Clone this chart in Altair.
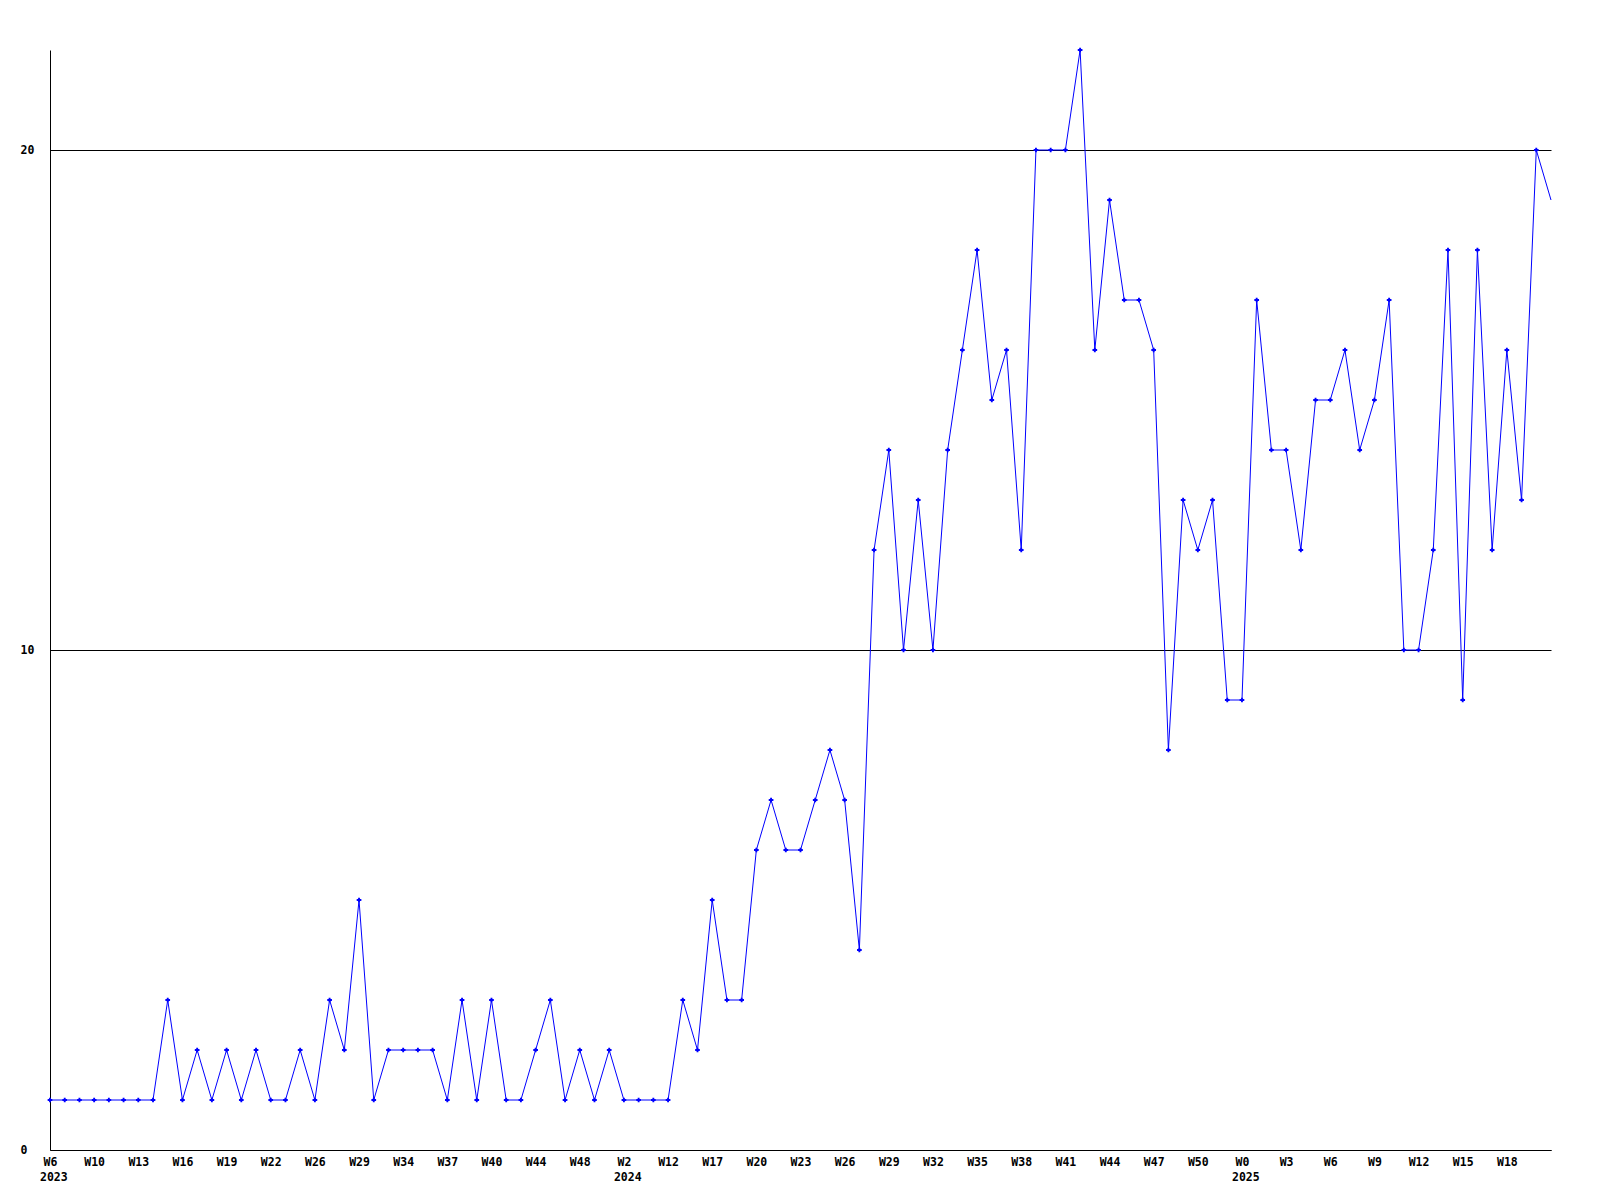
import json
import altair as alt
import pandas as pd

# weekly values, in drawing order (the last one lies on the right edge of the plot)
values = [1, 1, 1, 1, 1, 1, 1, 1, 3, 1,
          2, 1, 2, 1, 2, 1, 1, 2, 1, 3,
          2, 5, 1, 2, 2, 2, 2, 1, 3, 1,
          3, 1, 1, 2, 3, 1, 2, 1, 2, 1,
          1, 1, 1, 3, 2, 5, 3, 3, 6, 7,
          6, 6, 7, 8, 7, 4, 12, 14, 10, 13,
          10, 14, 16, 18, 15, 16, 12, 20, 20, 20,
          22, 16, 19, 17, 17, 16, 8, 13, 12, 13,
          9, 9, 17, 14, 14, 12, 15, 15, 16, 14,
          15, 17, 10, 10, 12, 18, 9, 18, 12, 16,
          13, 20, 19]

# tick labels, one every third point
week_labels = ["W6", "W10", "W13", "W16", "W19", "W22", "W26", "W29", "W34", "W37",
               "W40", "W44", "W48", "W2", "W12", "W17", "W20", "W23", "W26", "W29",
               "W32", "W35", "W38", "W41", "W44", "W47", "W50", "W0", "W3", "W6",
               "W9", "W12", "W15", "W18"]
year_labels = ["2023", "2024", "2025"]
year_ticks = [0, 13, 27]          # index into week_labels where each year starts

STEP = 3
FONT = "DejaVu Sans Mono"
BLUE = "#0000FF"

df = pd.DataFrame({"i": list(range(len(values))), "v": values})
n_last = len(values) - 1
tick_vals = [k * STEP for k in range(len(week_labels))]
years_df = pd.DataFrame({"i": [year_ticks[k] * STEP for k in range(len(year_labels))],
                         "year": year_labels})

label_expr = json.dumps(week_labels) + "[round(datum.value / %d)]" % STEP

x_scale = alt.Scale(domain=[0, n_last], nice=False, zero=False)
y_scale = alt.Scale(domain=[0, 22], nice=False)

x_enc = alt.X("i:Q", scale=x_scale,
              axis=alt.Axis(values=tick_vals, labelExpr=label_expr, title=None,
                            grid=False, ticks=False, labelPadding=12,
                            labelBaseline="middle", labelFont=FONT, labelFontSize=11.5,
                            labelFontWeight="bold", labelColor="black",
                            labelOverlap=False, labelFlush=False,
                            domainColor="black", domainWidth=1))
y_enc = alt.Y("v:Q", scale=y_scale,
              axis=alt.Axis(values=[0, 10, 20], title=None, grid=True,
                            gridColor="black", gridWidth=1, gridOpacity=1,
                            ticks=False, labelAlign="left", labelPadding=30,
                            labelBaseline="middle", labelFont=FONT, labelFontSize=11.5,
                            labelFontWeight="bold", labelColor="black",
                            domainColor="black", domainWidth=1))

line = alt.Chart(df).mark_line(color=BLUE, strokeWidth=1).encode(x=x_enc, y=y_enc)

points = alt.Chart(df).transform_filter(
    alt.datum.i < n_last
).mark_point(shape="cross", filled=True, color=BLUE, size=22, opacity=1).encode(
    x=alt.X("i:Q", scale=x_scale), y=alt.Y("v:Q", scale=y_scale))

years = alt.Chart(years_df).mark_text(
    font=FONT, fontSize=11.5, fontWeight="bold", color="black",
    align="left", baseline="middle", dx=-10
).encode(x=alt.X("i:Q", scale=x_scale), y=alt.value(1128), text="year:N")

chart = alt.layer(line, points, years).properties(
    width=1501, height=1100,
    autosize=alt.AutoSizeParams(type="none"),
    padding={"left": 42, "top": 42, "right": 40, "bottom": 40},
    background="white",
).configure_view(stroke="transparent")

chart.save("out.html", embed_options={"renderer": "svg", "actions": False})
